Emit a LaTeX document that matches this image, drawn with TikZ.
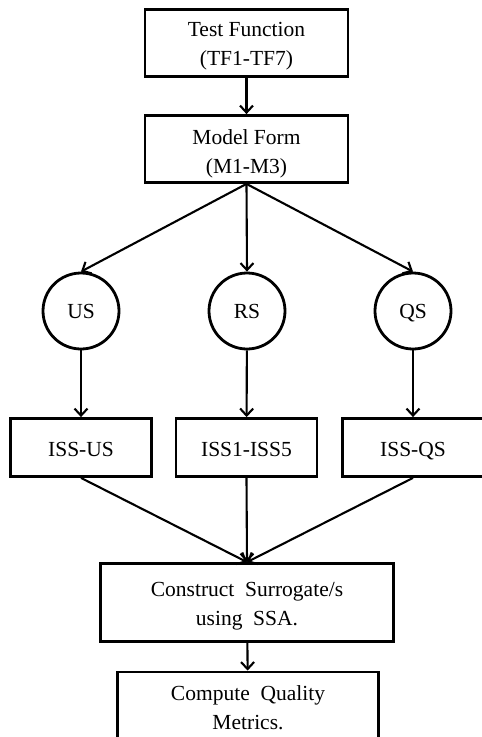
\documentclass[tikz,border=0pt]{standalone}
\usepackage{fontspec}
\setmainfont{Liberation Serif}
\usetikzlibrary{arrows.meta}
\begin{document}
\begin{tikzpicture}[x=1pt,y=-1pt,
  box/.style={draw, line width=2.8pt, rectangle, inner sep=0pt},
  txt/.style={inner sep=0pt, align=center, font=\fontsize{21.5}{29}\selectfont},
  circ/.style={draw, line width=2.8pt, circle, inner sep=0pt, minimum size=76pt,
    text height=15pt, text depth=0pt, font=\fontsize{21.5}{29}\selectfont},
  conn/.style={line width=2.1pt, -{Straight Barb[length=7pt,width=13pt,line width=2.1pt]}}]
\useasboundingbox (0,0) rectangle (482,737);
\clip (0,0) rectangle (482,737);
\node[box, minimum width=203pt, minimum height=67pt] (tf) at (246.5,43) {};
\node[txt] (tft) at (246.5,46) {Test Function\\(TF1-TF7)};
\node[box, minimum width=203pt, minimum height=67pt] (mf) at (246.5,149) {};
\node[txt] (mft) at (246.5,153.5) {Model Form\\(M1-M3)};
\node[circ] (us) at (81,311) {US};
\node[circ] (rs) at (247,311) {RS};
\node[circ] (qs) at (413,311) {QS};
\node[box, minimum width=141pt, minimum height=58pt] (issus) at (81,447.5) {};
\node[txt, text height=15pt, text depth=0pt] (issust) at (81,449) {ISS-US};
\node[box, minimum width=141pt, minimum height=58pt] (issrs) at (246.5,447.5) {};
\node[txt, text height=15pt, text depth=0pt] (issrst) at (246.5,449) {ISS1-ISS5};
\node[box, minimum width=141pt, minimum height=58pt] (issqs) at (413,447.5) {};
\node[txt, text height=15pt, text depth=0pt] (issqst) at (413,449) {ISS-QS};
\node[box, minimum width=293pt, minimum height=78pt] (cs) at (247,602.5) {};
\node[txt] (cst) at (247,606.5) {Construct\ \ Surrogate/s\\using\ \ SSA.};
\node[box, minimum width=261pt, minimum height=74pt] (cq) at (248,709) {};
\node[txt] (cqt) at (248,707.5) {Compute\ \ Quality\\Metrics.};
\draw[conn] (tf) -- (mf);
\draw[conn] (mf.south) -- (us.north);
\draw[conn] (mf.south) -- (rs.north);
\draw[conn] (mf.south) -- (qs.north);
\draw[conn] (us) -- (issus);
\draw[conn] (rs) -- (issrs);
\draw[conn] (qs) -- (issqs);
\draw[conn] (issus.south) -- (cs.north);
\draw[conn] (issrs.south) -- (cs.north);
\draw[conn] (issqs.south) -- (cs.north);
\draw[conn] (cs) -- (cq);
\end{tikzpicture}
\end{document}
